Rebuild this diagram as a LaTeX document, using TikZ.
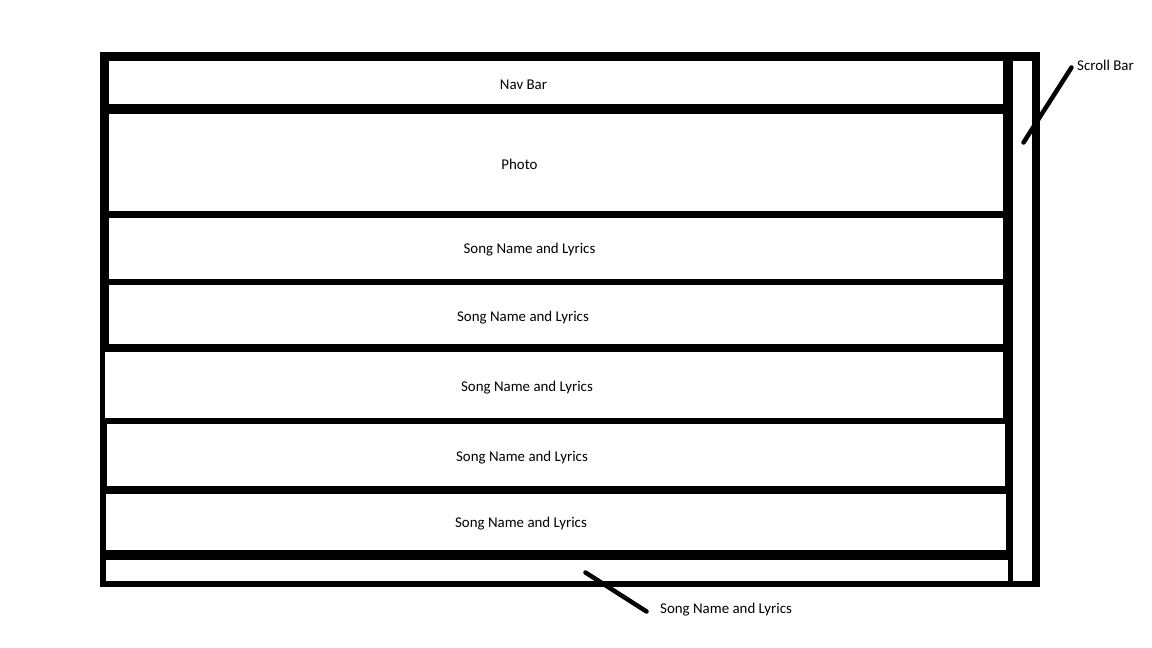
\documentclass[tikz,border=0pt]{standalone}
\usepackage{fontspec}
\setmainfont{Carlito}
\begin{document}
\begin{tikzpicture}[x=1pt,y=-1pt,
  band/.style={fill=black},
  lbl/.style={inner sep=0pt,text=black,font=\fontsize{14.9}{17}\selectfont},
  leader/.style={draw=black,line width=4.5pt,line cap=round}]
\useasboundingbox[fill=white] (0,0) rectangle (1152,648);

% outer frame
\fill[band] (100,52) rectangle (1040,61);    % top edge
\fill[band] (100,581) rectangle (1040,587);  % bottom edge
\fill[band] (1032,52) rectangle (1040,587);  % right edge
\fill[band] (100,52) rectangle (109,352);    % left edge, upper part
\fill[band] (100,352) rectangle (105,424);
\fill[band] (100,424) rectangle (107,494);
\fill[band] (100,494) rectangle (106,587);

% divider between page content and scroll bar
\fill[band] (1003,52) rectangle (1013,424);
\fill[band] (1005,424) rectangle (1013,494);
\fill[band] (1006,494) rectangle (1013,550);
\fill[band] (1008,550) rectangle (1013,581);

% section separators
\fill[band] (100,104) rectangle (1013,114);  % below nav bar
\fill[band] (100,211) rectangle (1013,218);  % below photo
\fill[band] (100,279) rectangle (1013,285);
\fill[band] (100,344) rectangle (1013,352);
\fill[band] (100,418) rectangle (1013,424);
\fill[band] (100,486) rectangle (1013,494);
\fill[band] (100,550) rectangle (1013,560);

% section labels
\node[lbl] (nav)   at (523.5,84.5)  {Nav Bar};
\node[lbl] (photo) at (519.5,164.5) {Photo};
\node[lbl] (song1) at (529.5,249.5) {Song Name and Lyrics};
\node[lbl] (song2) at (523,318)     {Song Name and Lyrics};
\node[lbl] (song3) at (527,388)     {Song Name and Lyrics};
\node[lbl] (song4) at (522,458)     {Song Name and Lyrics};
\node[lbl] (song5) at (521,524)     {Song Name and Lyrics};

% callouts
\node[lbl,anchor=west] (scrolllbl) at (1077,65) {Scroll Bar};
\coordinate (scrollin)  at (1023.5,142.5);
\coordinate (scrollout) at (1071.5,67.5);
\draw[leader] (scrollin) -- (scrollout);

\node[lbl,anchor=west] (songlbl) at (660,610) {Song Name and Lyrics};
\coordinate (songin)  at (585.5,572.5);
\coordinate (songout) at (646.5,611.5);
\draw[leader] (songin) -- (songout);
\end{tikzpicture}
\end{document}
